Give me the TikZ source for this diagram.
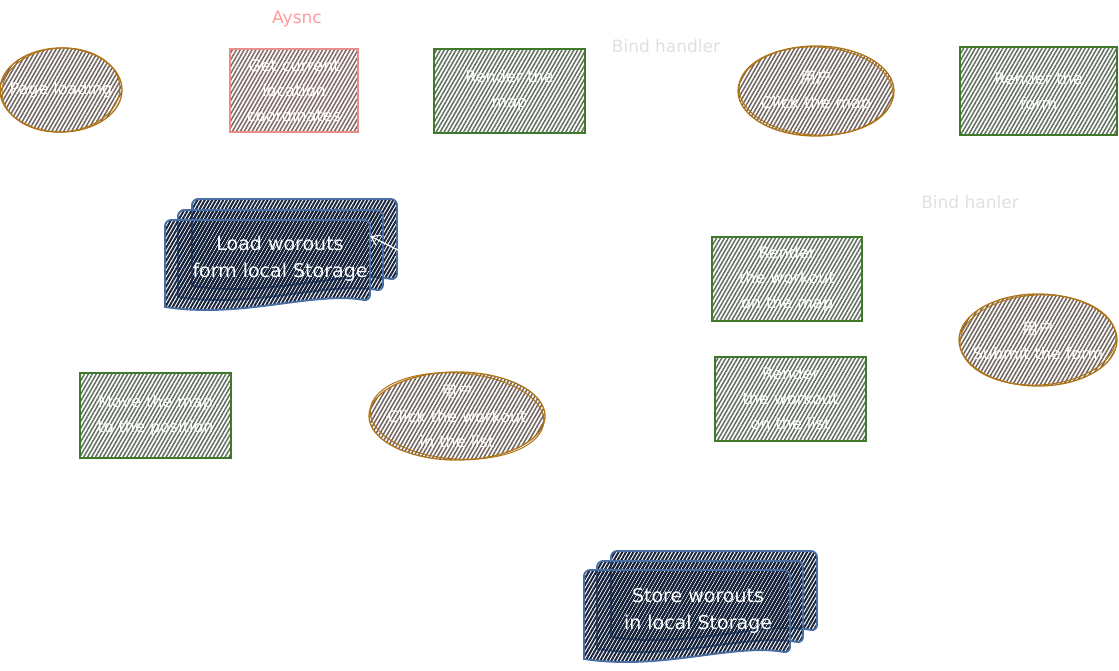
\documentclass[tikz,border=0pt]{standalone}
\usepackage{fontspec}
\setmainfont{DejaVu Sans}
\newfontfamily\cjk{Noto Sans CJK SC}
\usetikzlibrary{shapes.geometric,patterns.meta,arrows.meta}
\definecolor{ellbrown}{HTML}{B07418}
\definecolor{ellhatch}{HTML}{6E625D}
\definecolor{pinkline}{HTML}{E88C8C}
\definecolor{pinkhatch}{HTML}{7E6863}
\definecolor{boxgreen}{HTML}{3F7A2A}
\definecolor{greenhatch}{HTML}{5F6E5D}
\definecolor{docblue}{HTML}{4A6FA5}
\definecolor{dochatch}{HTML}{16233B}
\definecolor{asyncpink}{HTML}{FF9A9A}
\definecolor{bindgray}{HTML}{E0E0E0}
\tikzset{
  intext/.style={font=\fontsize{16}{25}\selectfont, text=white, align=center, inner sep=0pt},
  hand/.style={intext, line width=1.3pt},
  hatch/.style={pattern={Lines[angle=60,distance=3.4pt,line width=1.5pt]}},
  ellnode/.style={ellipse, draw=ellbrown, line width=1.3pt, hatch, pattern color=ellhatch, inner sep=0pt},
  greenbox/.style={hand, rectangle, draw=boxgreen, hatch, pattern color=greenhatch},
  pinkbox/.style={hand, rectangle, draw=pinkline, hatch, pattern color=pinkhatch},
  ellextra/.style={draw=ellbrown, line width=1pt},
  docshape/.style={draw=docblue, line width=1.8pt, pattern={Lines[angle=60,distance=3.2pt,line width=2pt]}, pattern color=dochatch},
  doctext/.style={font=\fontsize{19}{27}\selectfont, text=white, align=center, inner sep=0pt},
  note/.style={font=\fontsize{17}{20}\selectfont, inner sep=0pt},
  whitearrow/.style={draw=white, line width=1.2pt, -{Straight Barb[length=8pt,width=11pt]}}
}
\newcommand\docpiece[4]{%
  \path[docshape, rounded corners=6pt]
    ({#1},{#2+#4-6}) -- ({#1},{#2}) -- ({#1+#3},{#2}) -- ({#1+#3},{#2+#4-12})
    [sharp corners] .. controls ({#1+0.72*#3},{#2+#4-22}) and ({#1+0.38*#3},{#2+#4+6}) .. ({#1},{#2+#4-6}) -- cycle;%
}
\begin{document}
\begin{tikzpicture}[x=1pt,y=-1pt]
\useasboundingbox (0,0) rectangle (1119,670);
% top row
\node[ellnode, minimum width=122pt, minimum height=84pt, label={[intext]center:Page loading}] (page) at (61,90) {};
\draw[ellextra, rotate around={4:(page.center)}] (page.center) ellipse [x radius=59pt, y radius=42pt];
\node[note, text=asyncpink] (async) at (297,19) {Aysnc};
\node[pinkbox, minimum width=128pt, minimum height=83pt] (getloc) at (294,90.5) {Get current\\location\\coordinates};
\node[greenbox, minimum width=151pt, minimum height=84pt] (rmap) at (509.5,91) {Render the\\map};
\node[note, text=bindgray] (bind1) at (666,46) {Bind handler};
\node[ellnode, minimum width=156pt, minimum height=90pt, label={[intext]center:{\cjk 用户}\\Click the map}] (clickmap) at (816,91) {};
\draw[ellextra, rotate around={-3:(clickmap.center)}] (clickmap.center) ellipse [x radius=77pt, y radius=44pt];
\node[greenbox, minimum width=157pt, minimum height=88pt] (rform) at (1038.5,91) {Render the\\form};
% load workouts
\docpiece{192}{199}{205}{93}
\docpiece{178}{210}{205}{93}
\docpiece{165}{220}{205}{93}
\node[doctext, minimum width=180pt, minimum height=40pt] (load) at (280,259) {Load worouts\\form local Storage};
\coordinate (arrfrom) at (400,251);
\draw[whitearrow] (arrfrom) -- (load.north east);
% middle right
\node[note, text=bindgray] (bind2) at (970,202) {Bind hanler};
\node[greenbox, minimum width=150pt, minimum height=84pt] (rwmap) at (787,279) {Render\\the workout\\on the map};
\node[greenbox, minimum width=151pt, minimum height=84pt] (rwlist) at (790.5,399) {Render\\the workout\\on the list};
\node[ellnode, minimum width=158pt, minimum height=92pt, label={[intext]center:{\cjk 用户}\\Submit the form}] (submit) at (1038,340) {};
\draw[ellextra, rotate around={3:(submit.center)}] (submit.center) ellipse [x radius=78pt, y radius=45pt];
% lower left
\node[greenbox, minimum width=151pt, minimum height=85pt] (move) at (155.5,415.5) {Move the map\\to the position};
\node[ellnode, minimum width=176pt, minimum height=88pt, label={[intext]center:{\cjk 用户}\\Click the workout\\in the list}] (clickwo) at (457,416) {};
\draw[ellextra, rotate around={-4:(clickwo.center)}] (clickwo.center) ellipse [x radius=87pt, y radius=43pt];
% store workouts
\docpiece{611}{551}{206}{92}
\docpiece{597}{561}{206}{94}
\docpiece{584}{570}{206}{95}
\node[doctext] (store) at (698,611) {Store worouts\\in local Storage};
\end{tikzpicture}
\end{document}
